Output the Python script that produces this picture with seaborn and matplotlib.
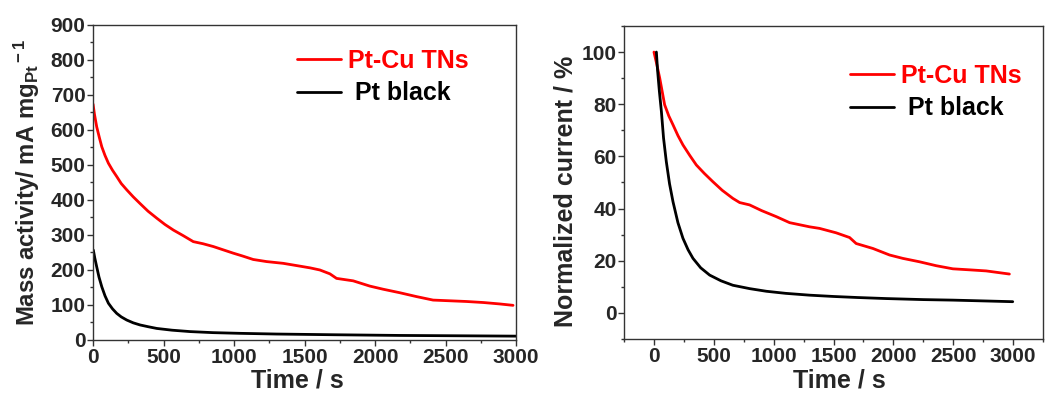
import matplotlib
matplotlib.use("Agg")
import matplotlib.pyplot as plt
from matplotlib.ticker import MultipleLocator
import seaborn as sns
import pandas as pd

# ---- data ----
t_cu_mass = [0, 10, 26, 45, 62, 85, 109, 138, 168, 200, 239, 285, 333, 390, 452, 510, 570, 640,
             711, 780, 853, 920, 995, 1060, 1136, 1231, 1349, 1467, 1540, 1609, 1680, 1727,
             1845, 1963, 2058, 2176, 2294, 2412, 2530, 2648, 2770, 2884, 2979]
v_cu_mass = [674, 645, 609, 578, 552, 527, 505, 485, 467, 447, 429, 409, 390, 368, 348, 330, 314,
             298, 281, 275, 267, 258, 248, 240, 230, 224, 219, 211, 206, 200, 189, 176,
             169, 154, 145, 135, 124, 114, 112, 110, 107, 103, 99]
t_pt_mass = [2, 12, 26, 42, 62, 85, 109, 138, 168, 200, 239, 285, 333, 390, 452, 560, 688, 850,
             1043, 1300, 1700, 2176, 2600, 3000]
v_pt_mass = [257, 235, 209, 180, 152, 126, 105, 89, 76, 66, 57, 49, 43, 38, 33, 28, 24, 21,
             19, 17, 15, 13, 12, 11]

t_cu_norm = [0, 20, 48, 89, 124, 159, 200, 242, 300, 354, 420, 492, 570, 659, 716, 799, 900,
             1022, 1133, 1300, 1383, 1522, 1634, 1689, 1829, 1968, 2079, 2218, 2357, 2497,
             2640, 2775, 2969]
v_cu_norm = [100, 96, 90, 79.8, 75.5, 72.1, 68.0, 64.4, 60.3, 56.7, 53.5, 50.3, 47.0, 43.9,
             42.3, 41.4, 39.2, 36.9, 34.6, 33.0, 32.4, 30.7, 28.9, 26.6, 24.7, 22.2, 20.9,
             19.6, 18.1, 16.9, 16.5, 16.1, 14.9]
t_pt_norm = [20, 30, 45, 62, 80, 103, 130, 159, 200, 242, 285, 326, 390, 465, 560, 659, 800,
             938, 1100, 1300, 1500, 1700, 1940, 2250, 2497, 2750, 2997]
v_pt_norm = [100, 93, 85, 77.2, 67, 58, 49.5, 42.6, 34.6, 28.6, 24.2, 20.9, 17.3, 14.5, 12.3,
             10.6, 9.3, 8.3, 7.5, 6.8, 6.3, 5.9, 5.5, 5.1, 4.9, 4.6, 4.3]

label_cu = "Pt-Cu TNs"
label_pt = " Pt black"
red = "#ff0000"
black = "#000000"

sns.set_style("ticks")
plt.rcParams["font.family"] = ["Liberation Sans", "DejaVu Sans"]
plt.rcParams["font.weight"] = "bold"
plt.rcParams["axes.labelweight"] = "bold"
plt.rcParams["mathtext.fontset"] = "custom"
plt.rcParams["mathtext.rm"] = "Liberation Sans:bold"
plt.rcParams["mathtext.it"] = "Liberation Sans:bold"
plt.rcParams["mathtext.bf"] = "Liberation Sans:bold"

fig = plt.figure(figsize=(10.49, 3.99), dpi=100)
ax1 = fig.add_axes([0.0887, 0.1479, 0.4032, 0.7895])
ax2 = fig.add_axes([0.5949, 0.1504, 0.3994, 0.7845])

df1c = pd.DataFrame({"t": t_cu_mass, "v": v_cu_mass})
df1p = pd.DataFrame({"t": t_pt_mass, "v": v_pt_mass})
df2c = pd.DataFrame({"t": t_cu_norm, "v": v_cu_norm})
df2p = pd.DataFrame({"t": t_pt_norm, "v": v_pt_norm})

for ax, dc, dp in [(ax1, df1c, df1p), (ax2, df2c, df2p)]:
    sns.lineplot(data=dc, x="t", y="v", ax=ax, color=red, lw=2.0, label=label_cu,
                 sort=False, estimator=None)
    sns.lineplot(data=dp, x="t", y="v", ax=ax, color=black, lw=2.0, label=label_pt,
                 sort=False, estimator=None)

ax1.set_xlim(0, 3000)
ax1.set_ylim(0, 900)
ax1.xaxis.set_major_locator(MultipleLocator(500))
ax1.xaxis.set_minor_locator(MultipleLocator(250))
ax1.yaxis.set_major_locator(MultipleLocator(100))
ax1.yaxis.set_minor_locator(MultipleLocator(50))

ax2.set_xlim(-250, 3250)
ax2.set_ylim(-10, 110)
ax2.xaxis.set_major_locator(MultipleLocator(500))
ax2.xaxis.set_minor_locator(MultipleLocator(250))
ax2.yaxis.set_major_locator(MultipleLocator(20))
ax2.yaxis.set_minor_locator(MultipleLocator(10))

ax1.set_ylabel("Mass activity/ mA mg$_{\\rm Pt}{}^{\\rm -1}$", fontsize=17.2)
ax2.set_ylabel("Normalized current / %", fontsize=18)
for ax in (ax1, ax2):
    ax.set_xlabel("Time / s", fontsize=18, labelpad=0)
    for s in ax.spines.values():
        s.set_visible(True)
        s.set_color("#333333")
        s.set_linewidth(1.0)
    ax.tick_params(which="major", direction="out", length=4, width=1, labelsize=15,
                   color="#333333", pad=1.5)
    ax.tick_params(which="minor", direction="out", length=2.5, width=1, color="#333333")
    for lab in ax.get_xticklabels() + ax.get_yticklabels():
        lab.set_fontweight("bold")

ax1.yaxis.set_label_coords(-0.12, 0.5)
ax2.yaxis.set_label_coords(-0.11, 0.47)
ax1.xaxis.set_label_coords(0.482, -0.09)
ax2.xaxis.set_label_coords(0.513, -0.095)

for ax, anchor in [(ax1, (0.482, 0.925)), (ax2, (0.539, 0.88))]:
    leg = ax.legend(loc="upper left", bbox_to_anchor=anchor, frameon=False,
                    handlelength=1.75, handletextpad=0.3, labelspacing=0.35, borderpad=0,
                    borderaxespad=0, prop={"weight": "bold", "size": 18})
    for txt, c in zip(leg.get_texts(), [red, black]):
        txt.set_color(c)

fig.savefig("out.png", dpi=100)
